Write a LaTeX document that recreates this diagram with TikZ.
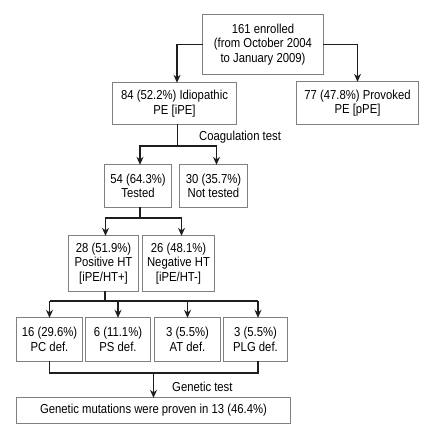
\documentclass[tikz,border=0pt]{standalone}
\usepackage{fontspec}
\setmainfont{Liberation Sans}[FakeStretch=0.87]
\usetikzlibrary{arrows.meta}
\definecolor{boxgray}{HTML}{808080}
\definecolor{linegray}{HTML}{1E1E1E}
\newcommand{\bordr}[1]{\draw[boxline] (#1.north west) -- (#1.north east) -- (#1.south east) -- (#1.south west) -- cycle;}
\begin{document}
\begin{tikzpicture}[x=1pt,y=-1pt,
  pbox/.style={inner sep=0pt, align=center,
    font=\fontsize{13pt}{14.5pt}\selectfont},
  boxline/.style={draw=boxgray, line width=0.9pt, line join=miter},
  plbl/.style={inner sep=0pt, anchor=west, font=\fontsize{13pt}{14.5pt}\selectfont},
  conn/.style={draw=linegray, line width=1.1pt, -{Stealth[length=8pt,width=7pt]}},
  plain/.style={draw=linegray, line width=1.1pt}]
\path[fill=white] (0,0) -- (436,0) -- (436,436) -- (0,436) -- cycle;
\useasboundingbox (0,0) -- (436,0) -- (436,436) -- (0,436) -- cycle;

\node[pbox, minimum width=120pt, minimum height=59pt] (top) at (263,44.5)
  {161 enrolled\\(from October 2004\\to January 2009)};
\node[pbox, minimum width=123pt, minimum height=41pt] (idio) at (174.5,103.5)
  {84 (52.2\%) Idiopathic\\PE [iPE]};
\node[pbox, minimum width=121pt, minimum height=42pt] (prov) at (357.5,103)
  {77 (47.8\%) Provoked\\PE [pPE]};
\node[pbox, minimum width=66pt, minimum height=42pt] (tested) at (138,186)
  {54 (64.3\%)\\Tested};
\node[pbox, minimum width=67pt, minimum height=42pt] (nottested) at (213.5,186)
  {30 (35.7\%)\\Not tested};
\node[pbox, minimum width=69pt, minimum height=55pt] (pos) at (103.5,263.5)
  {28 (51.9\%)\\Positive HT\\{[iPE/HT+]}};
\node[pbox, minimum width=71pt, minimum height=55pt] (neg) at (178.5,263.5)
  {26 (48.1\%)\\Negative HT\\{[iPE/HT-]}};
\node[pbox, minimum width=65pt, minimum height=43pt] (pc) at (49.5,339.5)
  {16 (29.6\%)\\PC def.};
\node[pbox, minimum width=64pt, minimum height=43pt] (ps) at (118,339.5)
  {6 (11.1\%)\\PS def.};
\node[pbox, minimum width=65pt, minimum height=43pt] (atd) at (187.5,339.5)
  {3 (5.5\%)\\AT def.};
\node[pbox, minimum width=63pt, minimum height=43pt] (plg) at (255.5,339.5)
  {3 (5.5\%)\\PLG def.};
\node[pbox, minimum width=273pt, minimum height=25pt] (res) at (153.5,410.5)
  {Genetic mutations were proven in 13 (46.4\%)};

\bordr{top}\bordr{idio}\bordr{prov}\bordr{tested}\bordr{nottested}
\bordr{pos}\bordr{neg}\bordr{pc}\bordr{ps}\bordr{atd}\bordr{plg}\bordr{res}

\node[plbl] (coag) at (199,137) {Coagulation test};
\node[plbl] (gen) at (172,387) {Genetic test};

\draw[conn] (top.west) -| ([xshift=2.5pt]idio.north);
\draw[conn] (top.east) -| (prov.north);

\coordinate (j1) at (177.5,146);
\draw[plain] (j1 |- idio.south) -- (j1);
\draw[conn] (j1) -| ([xshift=2pt]tested.north);
\draw[conn] (j1) -| ([xshift=3pt]nottested.north);

\coordinate (j2) at (140,218);
\draw[plain] (j2 |- tested.south) -- (j2);
\draw[conn] (j2) -| ([xshift=2pt]pos.north);
\draw[conn] (j2) -| ([xshift=3pt]neg.north);

\coordinate (j3) at (105,301);
\draw[plain] (j3 |- pos.south) -- (j3);
\draw[plain] (pc.north |- j3) -- ([xshift=2.5pt]plg.north |- j3);
\draw[conn] (pc.north |- j3) -- (pc.north);
\draw[conn] (ps.north |- j3) -- (ps.north);
\draw[conn] (atd.north |- j3) -- (atd.north);
\draw[conn] ([xshift=2.5pt]plg.north |- j3) -- ([xshift=2.5pt]plg.north);

\coordinate (j4) at (153.5,373);
\draw[plain] (pc.south) -- (pc.south |- j4) -- ([xshift=2.5pt]plg.south |- j4) -- ([xshift=2.5pt]plg.south);
\draw[conn] (j4) -- (res.north);
\end{tikzpicture}
\end{document}
